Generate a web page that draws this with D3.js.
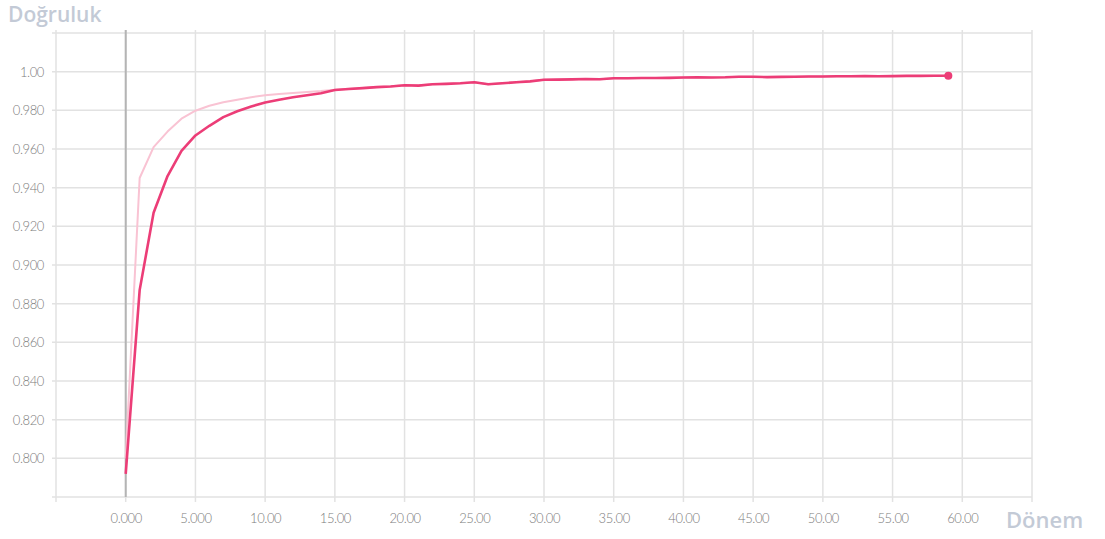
<!DOCTYPE html>
<html><head><meta charset="utf-8">
<script src="https://cdn.jsdelivr.net/npm/d3@7"></script>
<style>
html,body{margin:0;padding:0;background:#fff;}
svg{display:block;}
.tick-label{font-family:"Lato","Liberation Sans",sans-serif;font-weight:300;font-size:13px;fill:#7c7c7c;letter-spacing:-0.4px;}
.axis-title{font-family:"Open Sans",sans-serif;fill:#c3cad6;}
</style>
</head><body>
<svg id="chart" width="1105" height="539"></svg>
<script>
// ---- data ----
const epochs = d3.range(0, 60);
const trainAcc = [0.792,0.887,0.927,0.946,0.959,0.967,0.972,0.9765,0.9795,0.982,
  0.9840,0.9855,0.9868,0.9878,0.9888,0.9905,0.9910,0.9915,0.9920,0.9923,
  0.9930,0.9928,0.9935,0.9937,0.9940,0.9945,0.9935,0.9940,0.9945,0.9950,
  0.9958,0.9959,0.9960,0.9962,0.9961,0.9966,0.9966,0.9967,0.9967,0.9968,
  0.9970,0.9971,0.9970,0.9971,0.9974,0.9974,0.9972,0.9973,0.9974,0.9975,
  0.9975,0.9976,0.9976,0.9977,0.9976,0.9977,0.9978,0.9978,0.9979,0.9979];
const valAcc = [0.800,0.945,0.961,0.969,0.9757,0.9798,0.9824,0.9842,0.9855,0.9868,
  0.9878,0.9885,0.9890,0.9895,0.9900,0.9907,0.9911,0.9916,0.9921,0.9924,
  0.9930,0.9928,0.9935,0.9937,0.9940,0.9945,0.9935,0.9940,0.9945,0.9950,
  0.9958,0.9959,0.9960,0.9962,0.9961,0.9966,0.9966,0.9967,0.9967,0.9968,
  0.9970,0.9971,0.9970,0.9971,0.9974,0.9974,0.9972,0.9973,0.9974,0.9975,
  0.9975,0.9976,0.9976,0.9977,0.9976,0.9977,0.9978,0.9978,0.9979,0.9979];
const xTickValues = [-5,0,5,10,15,20,25,30,35,40,45,50,55,60,65];
const xTickLabels = ["","0.000","5.000","10.00","15.00","20.00","25.00","30.00","35.00","40.00","45.00","50.00","55.00","60.00",""];
const yTickValues = [0.78,0.80,0.82,0.84,0.86,0.88,0.90,0.92,0.94,0.96,0.98,1.00,1.02];
const yTickLabels = ["","0.800","0.820","0.840","0.860","0.880","0.900","0.920","0.940","0.960","0.980","1.00",""];
const yTitle = "Doğruluk";
const xTitle = "Dönem";

// ---- scales ----
const svg = d3.select("#chart");
const L = 56, R = 1032, T = 33, B = 497;
const x = d3.scaleLinear().domain([-5, 65]).range([L, R]);
const y = d3.scaleLinear().domain([0.78, 1.02]).range([B, T]);

// grid
const g = svg.append("g");
g.selectAll(".vg").data(xTickValues).join("line")
  .attr("x1", d => x(d)).attr("x2", d => x(d))
  .attr("y1", T - 3).attr("y2", B + 5)
  .attr("stroke", "#e2e2e2").attr("stroke-width", 1.5);
g.selectAll(".hg").data(yTickValues).join("line")
  .attr("x1", L - 4).attr("x2", R)
  .attr("y1", d => y(d)).attr("y2", d => y(d))
  .attr("stroke", "#e2e2e2").attr("stroke-width", 1.5);

// zero line
g.append("line").attr("x1", x(0)).attr("x2", x(0)).attr("y1", T - 3).attr("y2", B)
  .attr("stroke", "#b4b4b4").attr("stroke-width", 2);

// tick labels
const xAxis = d3.axisBottom(x).tickValues(xTickValues).tickSize(0)
  .tickFormat((d, i) => xTickLabels[i]);
const xa = svg.append("g").attr("transform", `translate(0,${B})`).call(xAxis);
xa.select(".domain").remove();
xa.selectAll("text").attr("class", "tick-label").attr("y", 26).attr("dy", 0)
  .attr("fill", null);

const yAxis = d3.axisLeft(y).tickValues(yTickValues).tickSize(0)
  .tickFormat((d, i) => yTickLabels[i]);
const ya = svg.append("g").attr("transform", `translate(${L - 12},0)`).call(yAxis);
ya.select(".domain").remove();
ya.selectAll("text").attr("class", "tick-label").attr("x", 0).attr("dy", "0.35em")
  .attr("fill", null);

// lines
const line = d3.line().x((d, i) => x(epochs[i])).y(d => y(d));
svg.append("path").datum(valAcc).attr("d", line)
  .attr("fill", "none").attr("stroke", "#f9c3d3").attr("stroke-width", 2)
  .attr("stroke-linejoin", "round");
svg.append("path").datum(trainAcc).attr("d", line)
  .attr("fill", "none").attr("stroke", "#ec3d77").attr("stroke-width", 2.6)
  .attr("stroke-linejoin", "round");
svg.append("circle")
  .attr("cx", x(epochs[epochs.length - 1]))
  .attr("cy", y(trainAcc[trainAcc.length - 1]))
  .attr("r", 4).attr("fill", "#ec3d77");

// titles
svg.append("text").attr("class", "axis-title").attr("x", 8).attr("y", 22)
  .attr("font-size", 21).attr("font-weight", 600).text(yTitle);
svg.append("text").attr("class", "axis-title").attr("x", 1006).attr("y", 528)
  .attr("font-size", 22).attr("font-weight", 600).text(xTitle);
</script>
</body></html>
